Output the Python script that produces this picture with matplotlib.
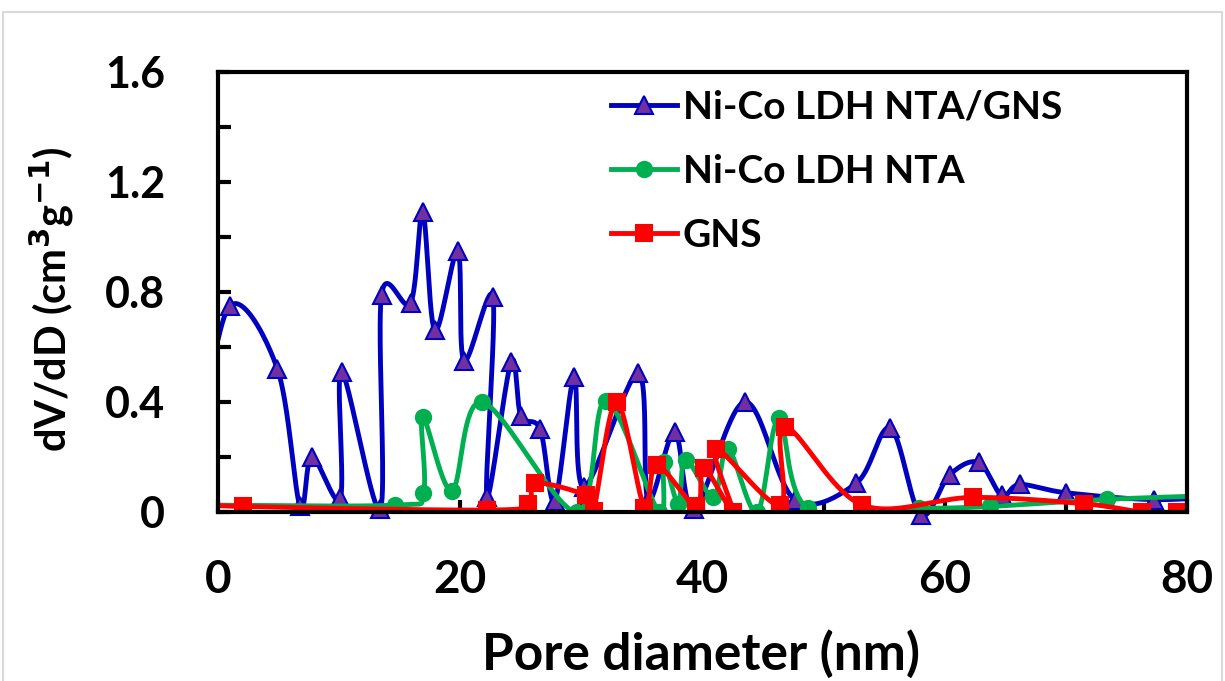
import numpy as np
import matplotlib
matplotlib.use("Agg")
import matplotlib.pyplot as plt
from matplotlib.patches import Rectangle
from matplotlib.lines import Line2D

plt.rcParams['font.family'] = ['Lato', 'DejaVu Sans']
plt.rcParams['font.weight'] = 'bold'

# Ni-Co LDH NTA/GNS
blue_x = [-1.5, 0.99, 4.9, 6.77, 7.74, 10.1, 10.2, 13.4, 13.5, 15.9, 16.9, 17.9, 19.8, 20.3,
          22.7, 22.2, 24.2, 25.0, 26.6, 27.8, 29.4, 30.2, 34.7, 35.5, 37.7, 39.3, 43.5, 47.6,
          52.7, 55.5, 58.0, 60.4, 62.8, 64.7, 66.2, 70.0, 77.3, 84.0]
blue_y = [0.25, 0.75, 0.52, 0.02, 0.20, 0.05, 0.51, 0.01, 0.79, 0.76, 1.09, 0.66, 0.95, 0.55,
          0.78, 0.056, 0.547, 0.35, 0.30, 0.04, 0.49, 0.09, 0.505, 0.045, 0.29, 0.01, 0.40, 0.045,
          0.105, 0.305, -0.01, 0.135, 0.18, 0.06, 0.10, 0.07, 0.045, 0.06]

# Ni-Co LDH NTA
green_x = [-1.0, 14.6, 16.95, 16.9, 19.3, 21.8, 29.6, 32.0, 36.4, 36.8, 38.0, 38.6, 40.9, 42.1,
           44.5, 46.3, 48.7, 57.9, 63.7, 73.4, 84.0]
green_y = [0.025, 0.025, 0.07, 0.345, 0.078, 0.40, 0.0, 0.405, 0.0, 0.18, 0.03, 0.19, 0.055, 0.23,
           0.0, 0.34, 0.013, 0.013, 0.02, 0.046, 0.062]

# GNS
red_x = [-1.0, 2.1, 22.2, 25.6, 26.2, 30.4, 31.0, 32.9, 35.2, 36.2, 39.5, 40.1, 42.5, 41.1,
         46.4, 46.8, 53.2, 62.3, 71.5, 76.3, 79.2]
red_y = [0.03, 0.02, 0.007, 0.03, 0.105, 0.06, 0.005, 0.40, 0.015, 0.17, 0.02, 0.16, 0.0, 0.23,
         0.025, 0.31, 0.025, 0.053, 0.03, 0.0, 0.0]


def smooth(xs, ys, n=40):
    # excel-like smoothed line (bezier through the points)
    p = np.column_stack([xs, ys])
    p = np.vstack([p[0], p, p[-1]])
    t = np.linspace(0, 1, n)[:, None]
    segs = []
    for i in range(1, len(p) - 2):
        p0, p1, p2, p3 = p[i - 1], p[i], p[i + 1], p[i + 2]
        c1 = p1 + (p2 - p0) / 6
        c2 = p2 - (p3 - p1) / 6
        segs.append((1 - t)**3 * p1 + 3 * (1 - t)**2 * t * c1 + 3 * (1 - t) * t**2 * c2 + t**3 * p2)
    s = np.vstack(segs)
    return s[:, 0], s[:, 1]


fig = plt.figure(figsize=(12.25, 6.81), dpi=100)
ax = fig.add_axes([0.178, 0.2482, 0.791, 0.6461])

series = [
    (blue_x, blue_y, '#0000C0', '^', '#7030A0', 'Ni-Co LDH NTA/GNS', 13, True),
    (green_x, green_y, '#00B050', 'o', '#00B050', 'Ni-Co LDH NTA', 11, False),
    (red_x, red_y, '#FF0000', 's', '#FF0000', 'GNS', 11, False),
]

handles = []
for xs, ys, col, mk, face, lab, ms, below in series:
    sx, sy = smooth(xs, ys)
    keep = (sx >= 0) & (sx <= 80)
    sx = np.where(keep, sx, np.nan)
    xs = np.array(xs)
    ys = np.array(ys)
    m = (xs >= 0) & (xs <= 80)
    ln, = ax.plot(sx, sy, color=col, lw=3.5)
    mk_ln, = ax.plot(xs[m], ys[m], ls='none', marker=mk, ms=ms, mfc=face, mec=col, mew=1.5)
    if below:
        # blue dips a little under the axis line in the original
        clip = Rectangle((0, -0.1), 1, 1.2, transform=ax.transAxes)
        ln.set_clip_path(clip)
        mk_ln.set_clip_path(clip)
    handles.append(Line2D([], [], color=col, lw=3.5, marker=mk, ms=ms, mfc=face, mec=col, mew=1.5, label=lab))

ax.set_xlim(0, 80)
ax.set_ylim(0, 1.6)
ax.set_xticks([0, 20, 40, 60, 80])
ax.set_xticks([10, 30, 50, 70], minor=True)
ax.set_yticks([0, 0.4, 0.8, 1.2, 1.6])
ax.set_yticklabels(['0', '0.4', '0.8', '1.2', '1.6'])
ax.set_yticks([0.2, 0.6, 1.0, 1.4], minor=True)
ax.tick_params(which='both', direction='in', length=9, width=3)
ax.tick_params(axis='x', which='major', labelsize=33, pad=34)
ax.tick_params(axis='y', which='major', labelsize=31, pad=38)
for sp in ax.spines.values():
    sp.set_linewidth(3)

fig.text(0.572, 0.016, 'Pore diameter (nm)', fontsize=37, fontweight='bold', ha='center', va='baseline')
fig.text(0.042, 0.56, 'dV/dD (cm$^{\\mathbf{3}}$g$^{\\mathbf{-1}}$)', fontsize=30, fontweight='bold',
         ha='center', va='center', rotation=90)

leg = fig.legend(handles=handles, loc='upper left', bbox_to_anchor=(0.47, 0.92), frameon=False,
                 fontsize=28, handlelength=1.7, handletextpad=0.15, labelspacing=0.75)
for t in leg.get_texts():
    t.set_fontweight('bold')

fig.patches.append(Rectangle((3 / 1225, -0.01), 1219 / 1225, 0.992, transform=fig.transFigure,
                             fill=False, edgecolor='#d9d9d9', lw=1.5))

plt.savefig('out.png')
